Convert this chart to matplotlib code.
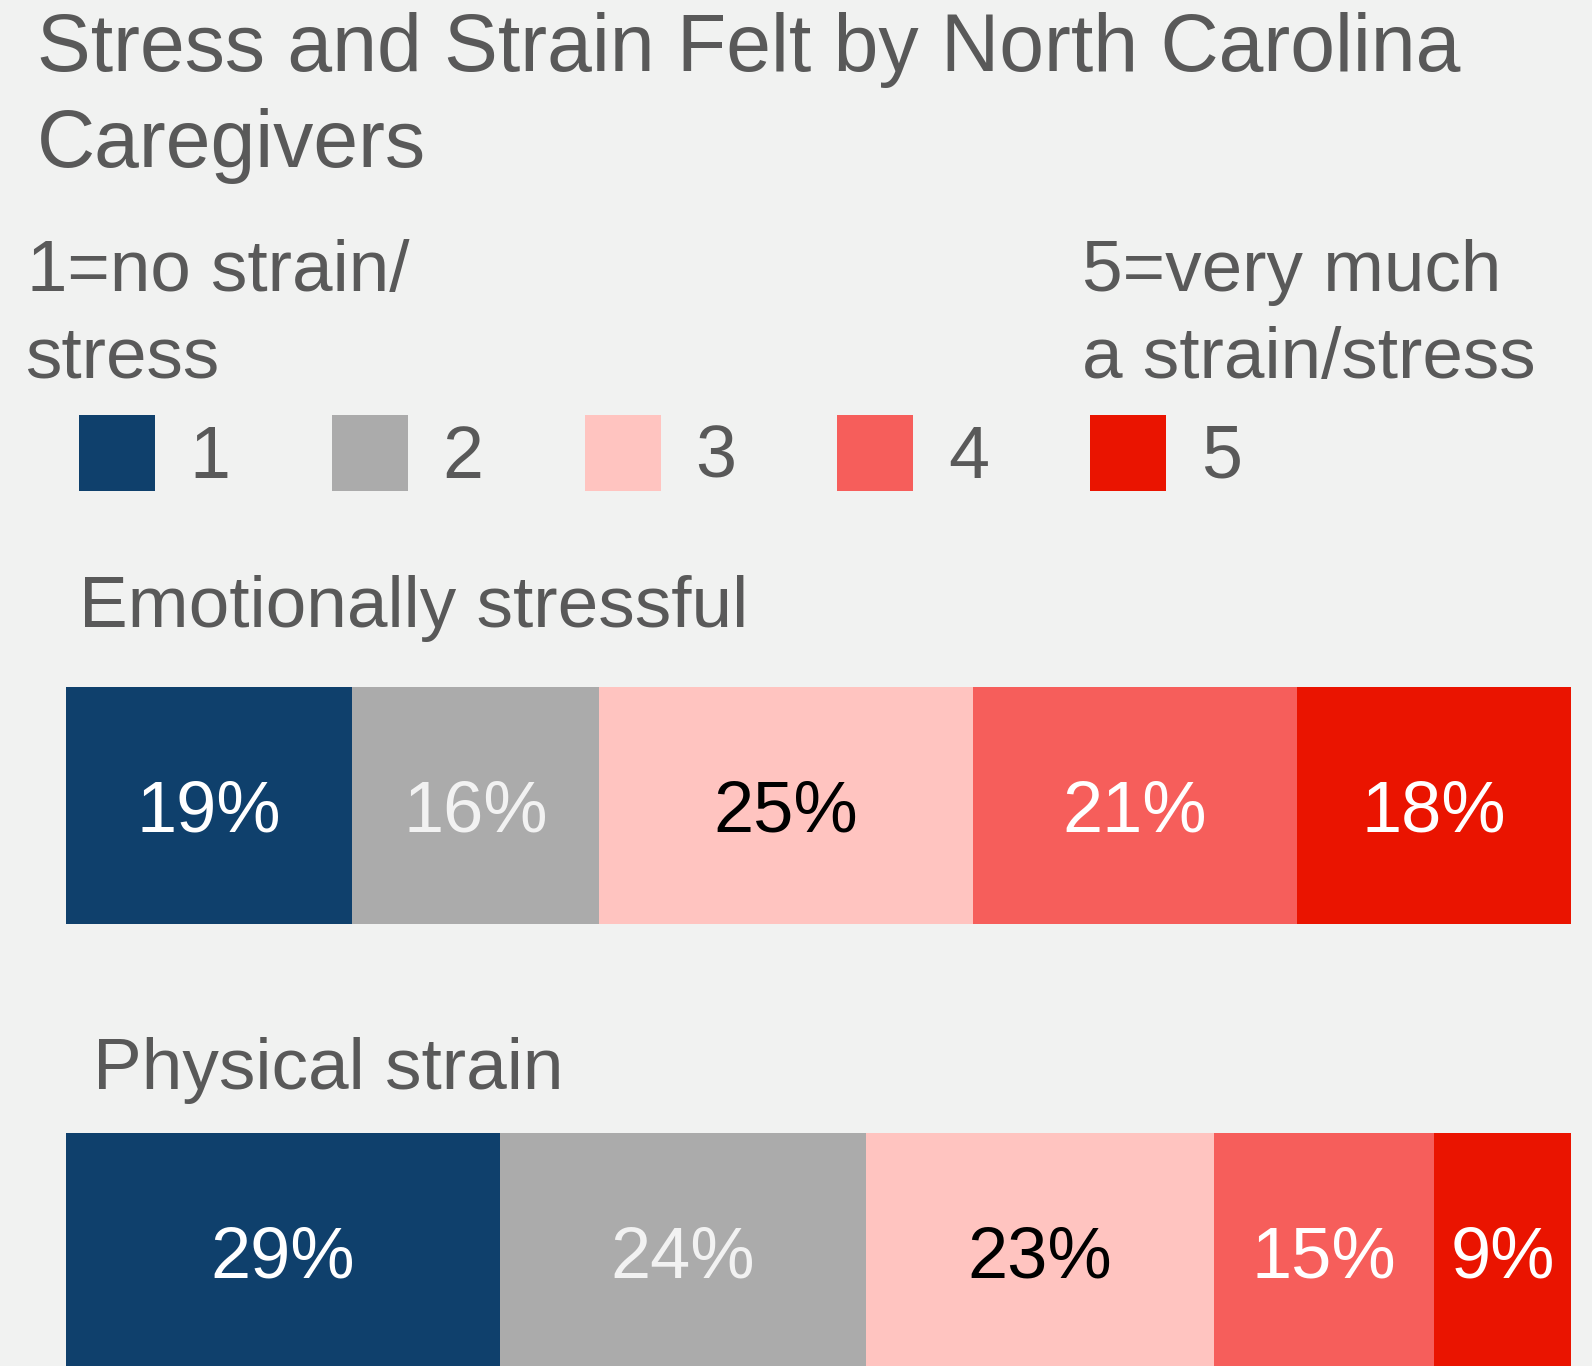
import matplotlib
matplotlib.use("Agg")
import matplotlib.pyplot as plt
import numpy as np

# ---------------- data ----------------
title_lines = ["Stress and Strain Felt by North Carolina", "Caregivers"]
scale_low = ["1=no strain/", "stress"]
scale_high = ["5=very much", "a strain/stress"]
levels = ["1", "2", "3", "4", "5"]
categories = ["Emotionally stressful", "Physical strain"]
# segment shares
emotional = [19.0, 16.4, 24.8, 21.5, 18.2]
physical = [28.8, 24.3, 23.1, 14.6, 9.1]
# printed labels
emotional_labels = ["19%", "16%", "25%", "21%", "18%"]
physical_labels = ["29%", "24%", "23%", "15%", "9%"]
colors = ["#0F406C", "#ABABAB", "#FFC4C0", "#F65E5B", "#EA1400"]
label_colors = ["white", "#F2F2F2", "black", "white", "white"]

W, H = 1592, 1366
BG = "#F1F2F1"
TXT = "#595959"
FONT = "Liberation Sans"
plt.rcParams["font.family"] = [FONT, "DejaVu Sans"]

fig = plt.figure(figsize=(W / 100, H / 100), dpi=100, facecolor=BG)


def fx(x):
    return x / W


def fy(y):
    return 1 - y / H


# title
fig.text(fx(37), fy(71), title_lines[0], fontsize=58, color=TXT, va="baseline", ha="left")
fig.text(fx(37), fy(167), title_lines[1], fontsize=58, color=TXT, va="baseline", ha="left")

# scale captions
CAP = 52.5
fig.text(fx(27), fy(291), scale_low[0], fontsize=CAP, color=TXT, va="baseline")
fig.text(fx(25), fy(378), scale_low[1], fontsize=CAP, color=TXT, va="baseline")
fig.text(fx(1082), fy(291), scale_high[0], fontsize=CAP, color=TXT, va="baseline")
fig.text(fx(1082), fy(378), scale_high[1], fontsize=CAP, color=TXT, va="baseline")

# category headers
fig.text(fx(79), fy(627), categories[0], fontsize=52.6, color=TXT, va="baseline")
fig.text(fx(93), fy(1089), categories[1], fontsize=52.6, color=TXT, va="baseline")

# ---------------- bars ----------------
row_gap = 446.0
bar_h_px = 237.0
h = bar_h_px / row_gap
top_px = 687.0
bottom_px = top_px + (1 + h) * row_gap
ax = fig.add_axes([fx(66), fy(bottom_px), fx(1571) - fx(66), (bottom_px - top_px) / H])
ax.set_facecolor("none")

rows = [(emotional, emotional_labels), (physical, physical_labels)]
handles = []
for r, (vals, labs) in enumerate(rows):
    vals = np.array(vals, dtype=float)
    pct = vals / vals.sum() * 100
    left = 0.0
    for i, (p, lab) in enumerate(zip(pct, labs)):
        b = ax.barh(r, p, left=left, height=h, color=colors[i], linewidth=0)
        if r == 0:
            handles.append(b)
        ax.text(left + p / 2, r, lab, ha="center", va="center_baseline",
                fontsize=52, color=label_colors[i])
        left += p

ax.set_xlim(0, 100)
ax.set_ylim(1 + h / 2, -h / 2)
ax.axis("off")

# ---------------- legend ----------------
LFS = 53
em = LFS / 72 * 100
hl = 76 / em
hh = (hl - 0.245) / 0.65
leg = fig.legend(handles, levels, loc="upper left", ncol=5, frameon=False,
                 bbox_to_anchor=(fx(79), fy(415)), bbox_transform=fig.transFigure,
                 fontsize=LFS, handlelength=hl, handleheight=hh,
                 handletextpad=0.47, columnspacing=1.375, borderpad=0, borderaxespad=0)
for t in leg.get_texts():
    t.set_color(TXT)

fig.savefig("out.png", dpi=100, facecolor=BG)
